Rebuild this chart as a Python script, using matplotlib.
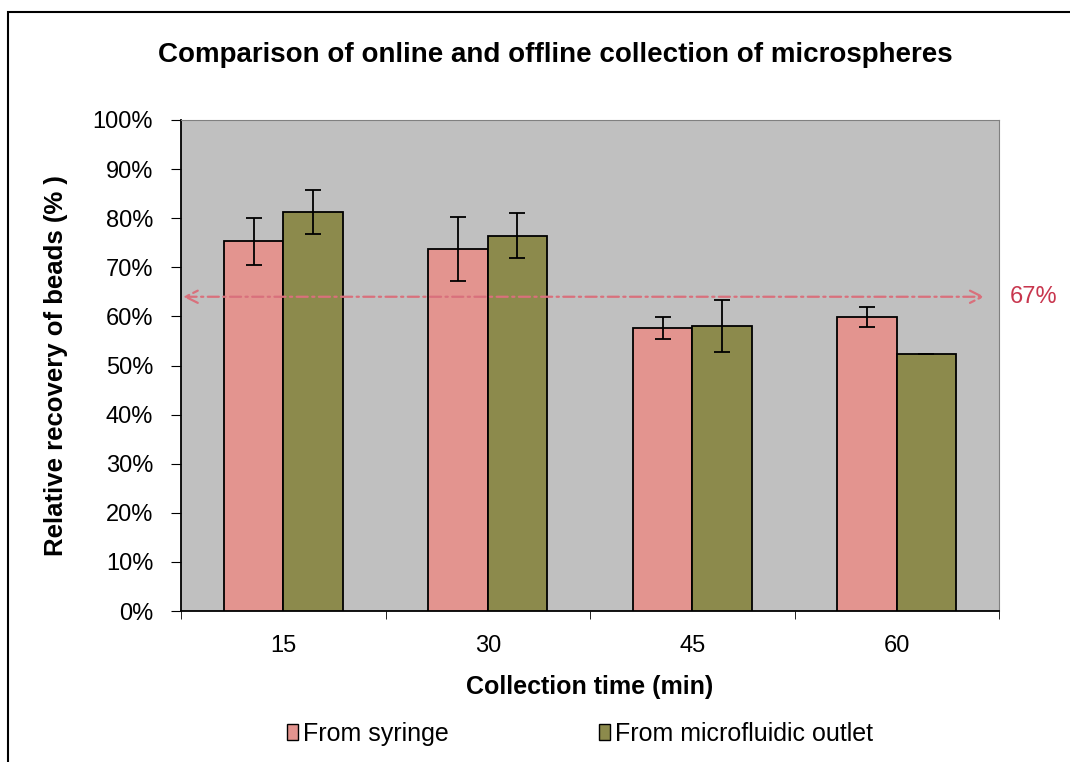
import matplotlib.pyplot as plt
from matplotlib.patches import Rectangle, Patch
from matplotlib.ticker import MultipleLocator, PercentFormatter

plt.rcParams['font.family'] = ['Liberation Sans', 'DejaVu Sans']

# data
times = ['15', '30', '45', '60']
syringe = [75.3, 73.7, 57.6, 59.9]
syringe_err = [4.8, 6.5, 2.2, 2.0]
outlet = [81.3, 76.4, 58.0, 52.3]
outlet_err = [4.5, 4.6, 5.3, 0.0]
ref_level = 64.0
ref_label = '67%'

pink = '#e3948f'
olive = '#8c8a4c'

fig = plt.figure(figsize=(10.7, 7.62), dpi=100)
# outer chart border (picture is cropped on right/bottom)
fig.patches.append(Rectangle((8 / 1070, -0.1), 1.2, 0.1 + (762 - 12) / 762,
                             transform=fig.transFigure, fill=False,
                             edgecolor='black', lw=1.5))

ax = fig.add_axes([181 / 1070, 151 / 762, 818 / 1070, 491 / 762])
ax.set_facecolor('#c0c0c0')

x = range(len(times))
w = 0.29
ax.bar([i - w / 2 for i in x], syringe, w, color=pink, edgecolor='black', lw=1.3,
       label='From syringe', zorder=3)
ax.bar([i + w / 2 for i in x], outlet, w, color=olive, edgecolor='black', lw=1.3,
       label='From microfluidic outlet', zorder=3)
ax.errorbar([i - w / 2 for i in x], syringe, yerr=syringe_err, fmt='none',
            ecolor='black', elinewidth=1.3, capsize=6, capthick=1.3, zorder=4)
ax.errorbar([i + w / 2 for i in x], outlet, yerr=outlet_err, fmt='none',
            ecolor='black', elinewidth=1.3, capsize=6, capthick=1.3, zorder=4)

# reference line with arrows
ax.annotate('', xy=(3.43, ref_level), xytext=(-0.49, ref_level),
            arrowprops=dict(arrowstyle='<->', color='#d9707c', lw=1.6,
                            linestyle=(0, (5, 2, 1, 2)), mutation_scale=22,
                            shrinkA=0, shrinkB=0),
            zorder=5)
ax.text(1.0135, ref_level, ref_label, transform=ax.get_yaxis_transform(),
        color='#c8364e', fontsize=17, va='center', ha='left', clip_on=False)

ax.set_xlim(-0.5, 3.5)
ax.set_ylim(0, 100)
ax.yaxis.set_major_locator(MultipleLocator(10))
ax.yaxis.set_major_formatter(PercentFormatter(decimals=0))
ax.set_xticks(list(x))
ax.set_xticklabels(times)
ax.set_xticks([-0.5, 0.5, 1.5, 2.5, 3.5], minor=True)
ax.tick_params(axis='x', which='major', length=0, labelsize=17, pad=17)
ax.tick_params(axis='x', which='minor', length=6, direction='out')
ax.tick_params(axis='y', length=7, direction='out', labelsize=17, pad=13)

for s in ['top', 'right']:
    ax.spines[s].set_color('#808080')
ax.spines['left'].set_linewidth(1.3)
ax.spines['bottom'].set_linewidth(1.3)

ax.set_xlabel('Collection time (min)', fontsize=18, fontweight='bold', labelpad=13)
ax.set_ylabel('Relative recovery of beads (% )', fontsize=18.5, fontweight='bold', labelpad=18)
fig.text(555 / 1070, 1 - 55 / 762, 'Comparison of online and offline collection of microspheres',
         ha='center', va='center', fontsize=20, fontweight='bold')

handles = [Patch(facecolor=pink, edgecolor='black'), Patch(facecolor=olive, edgecolor='black')]
fig.legend(handles, ['From syringe', 'From microfluidic outlet'], loc='center',
           bbox_to_anchor=(580 / 1070, 1 - 734 / 762), ncol=2, frameon=False,
           fontsize=18, handlelength=0.45, handleheight=0.6, handletextpad=0.2,
           columnspacing=6.0)

fig.savefig('out.png', dpi=100)
